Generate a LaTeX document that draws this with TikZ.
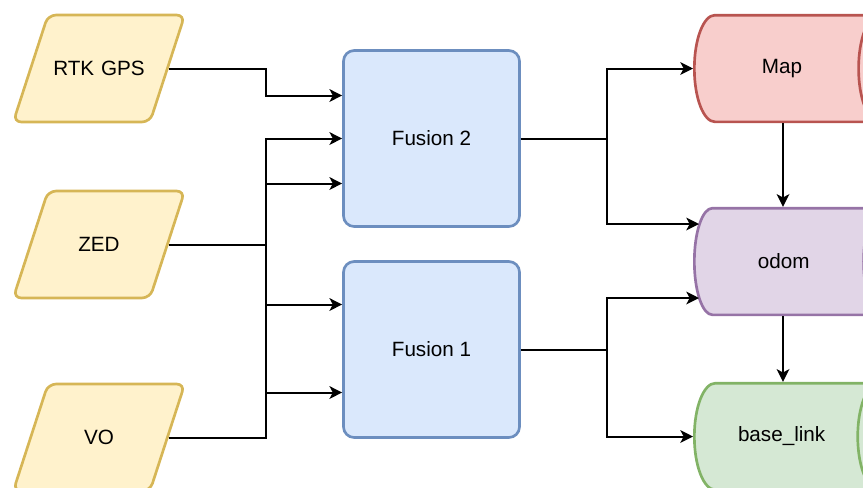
\documentclass[tikz,border=0pt]{standalone}
\usepackage{fontspec}
\setmainfont{Liberation Sans}
\usetikzlibrary{shapes.geometric,arrows.meta,calc}

\definecolor{srcfill}{HTML}{FFF2CC}
\definecolor{srcline}{HTML}{D6B656}
\definecolor{fusfill}{HTML}{DAE8FC}
\definecolor{fusline}{HTML}{6C8EBF}
\definecolor{mapfill}{HTML}{F8CECC}
\definecolor{mapline}{HTML}{B85450}
\definecolor{odomfill}{HTML}{E1D5E7}
\definecolor{odomline}{HTML}{9673A6}
\definecolor{basefill}{HTML}{D5E8D4}
\definecolor{baseline}{HTML}{82B366}

\begin{document}
\begin{tikzpicture}[x=0.75pt,y=-0.75pt,
    every node/.style={font=\fontsize{15.5}{18}\selectfont},
    source/.style={trapezium,trapezium left angle=72,trapezium right angle=108,
      draw=srcline,fill=srcfill,line width=2pt,rounded corners=6pt,
      inner sep=0pt,text width=76.5pt,align=center,text height=45.6pt,text depth=34.6pt},
    fusion/.style={rectangle,draw=fusline,fill=fusfill,line width=2pt,
      rounded corners=8pt,minimum width=132pt,minimum height=132pt},
    frame/.style={cylinder,shape aspect=1.5,line width=2pt,anchor=west,
      minimum width=80pt,minimum height=154pt},
    conn/.style={line width=1.5pt,-{Stealth[length=9.5pt,width=9.5pt,inset=2.5pt]}}]

\useasboundingbox (0,0) rectangle (863,487);
\clip (0,0) rectangle (863,487);

% sensors
\node[source] (rtk) at (99,68.5) {RTK GPS};
\node[source] (zed) at (99,244.5) {ZED};
\node[source] (vo) at (99,437.5) {VO};

% fusion nodes
\node[fusion] (f2) at (431.5,138.5) {Fusion 2};
\node[fusion] (f1) at (431.5,349.5) {Fusion 1};

% frames
\node[frame,draw=mapline,fill=mapfill] (map) at (693,68.5) {Map};
\node[frame,draw=odomline,fill=odomfill] (odom) at (693,261.5) {odom};
\node[frame,draw=baseline,fill=basefill] (base) at (693,436.5) {base\_link};

% junction columns
\coordinate (bus) at (266,0);
\coordinate (split) at (607,0);
\coordinate (chain) at (783,0);

\coordinate (f2a) at ($(f2.west)+(0,-43)$);
\coordinate (f2b) at (f2.west);
\coordinate (f2c) at ($(f2.west)+(0,45)$);
\coordinate (f1a) at ($(f1.west)+(0,-45)$);
\coordinate (f1b) at ($(f1.west)+(0,43)$);
\coordinate (odoma) at ($(odom.west)+(6,-37.5)$);
\coordinate (odomb) at ($(odom.west)+(6,36.5)$);

% inputs
\draw[conn] (rtk.east) -| (bus |- f2a) -- (f2a);
\draw[conn] (zed.east) -| (bus |- f2b) -- (f2b);
\draw[conn] (vo.east) -| (bus |- f2c) -- (f2c);
\draw[conn] (zed.east) -| (bus |- f1a) -- (f1a);
\draw[conn] (vo.east) -| (bus |- f1b) -- (f1b);

% outputs
\draw[conn] (f2.east) -| (split |- map.west) -- (map.west);
\draw[conn] (f2.east) -| (split |- odoma) -- (odoma);
\draw[conn] (f1.east) -| (split |- odomb) -- (odomb);
\draw[conn] (f1.east) -| (split |- base.west) -- (base.west);

% frame chain
\draw[conn] (chain |- map.south) -- (chain |- odom.north);
\draw[conn] (chain |- odom.south) -- (chain |- base.north);

\end{tikzpicture}
\end{document}
